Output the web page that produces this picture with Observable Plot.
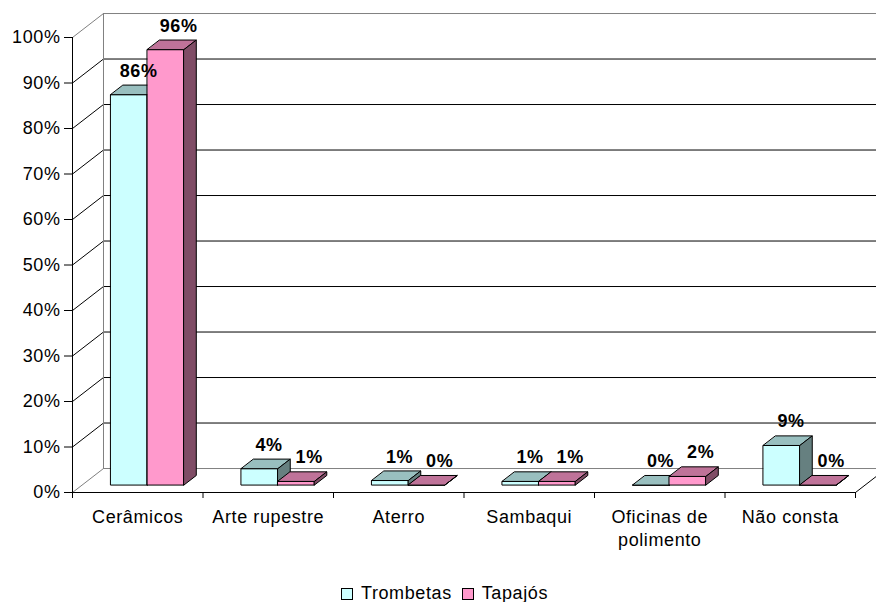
<!DOCTYPE html>
<html><head><meta charset="utf-8">
<script src="https://cdn.jsdelivr.net/npm/d3@7"></script>
<script src="https://cdn.jsdelivr.net/npm/@observablehq/plot@0.6"></script>
<style>
body{margin:0;background:#fff;font-family:"Liberation Sans",Arial,sans-serif;}
#chart{position:relative;width:876px;height:602px;overflow:hidden;}
#legend{position:absolute;left:0;top:583px;width:876px;text-align:center;font-size:18px;line-height:20px;letter-spacing:0.6px;padding-left:13px;box-sizing:border-box;white-space:nowrap;color:#000;}
.sw{display:inline-block;width:10px;height:10px;border:1px solid #000;vertical-align:-1px;margin-right:8px;}
.gap{display:inline-block;width:10px;}
</style></head><body>
<div id="chart"></div>
<script>
// ---- data ----
const categories = ["Cerâmicos", "Arte rupestre", "Aterro", "Sambaqui", "Oficinas de\npolimento", "Não consta"];
const seriesNames = ["Trombetas", "Tapajós"];
const trombetas = [85.8, 3.6, 1.0, 0.8, 0, 8.7];
const tapajos = [95.7, 0.8, 0, 0.8, 1.9, 0];
const yTicks = [0, 10, 20, 30, 40, 50, 60, 70, 80, 90, 100];

// ---- styling / 3D geometry ----
const frontColors = ["#CCFFFF", "#FF99CC"];
const topColors = ["#99BFBF", "#BF7399"];
const sideColors = ["#668080", "#804D66"];
const DXu = 0.2375;   // wall depth in x units
const DYu = 5.27;     // wall depth in y units
const f0 = 0.31, f1 = 0.71; // bar front/back depth fractions
const gap = 0.22, w = 0.28;

const P = (x, y, f) => ({x: x + f * DXu, y: y + f * DYu});
function faces(values, s) {
  const front = [], top = [], side = [];
  values.forEach((v, i) => {
    const x0 = i + gap + s * w, x1 = x0 + w;
    const id = s + "-" + i;
    [P(x0, 0, f0), P(x1, 0, f0), P(x1, v, f0), P(x0, v, f0)].forEach(p => front.push({...p, id}));
    [P(x0, v, f0), P(x1, v, f0), P(x1, v, f1), P(x0, v, f1)].forEach(p => top.push({...p, id}));
    [P(x1, 0, f0), P(x1, 0, f1), P(x1, v, f1), P(x1, v, f0)].forEach(p => side.push({...p, id}));
  });
  return {front, top, side};
}
const allSeries = [trombetas, tapajos];
const barMarks = [];
allSeries.forEach((vals, s) => {
  const F = faces(vals, s);
  const opts = (fill) => ({x: "x", y: "y", z: "id", fill, stroke: "#000", strokeWidth: 1, curve: "linear-closed", strokeLinejoin: "miter"});
  barMarks.push(Plot.line(F.front, opts(frontColors[s])));
  barMarks.push(Plot.line(F.top, opts(topColors[s])));
  barMarks.push(Plot.line(F.side, opts(sideColors[s])));
});
const labelDx = [9.5, 13];
const labelMarks = allSeries.map((vals, s) => Plot.text(vals, {
  x: (d, i) => i + gap + s * w + w / 2 + f0 * DXu,
  y: d => d + f0 * DYu,
  text: d => Math.round(d) + "%",
  dx: labelDx[s], dy: -18, lineAnchor: "bottom", fontWeight: "bold", fontSize: 18, fill: "#000"
}));

const inner = yTicks.filter(t => t > 0 && t < 100);
const edges = [0, 100];
const n = categories.length;

const chart = Plot.plot({
  width: 876, height: 575,
  marginLeft: 72, marginRight: 21, marginTop: 37, marginBottom: 83,
  x: {type: "linear", domain: [0, n], axis: null},
  y: {domain: [0, 100], axis: null},
  style: {fontFamily: "'Liberation Sans', Arial, sans-serif", fontSize: "18px", color: "#000", background: "#fff", letterSpacing: "0.6px"},
  marks: [
    // back wall gridlines
    Plot.ruleY(inner, {y: d => d + DYu, x1: DXu, x2: n + DXu + 0.3, stroke: "#000", strokeWidth: 1}),
    Plot.ruleY(edges, {y: d => d + DYu, x1: DXu, x2: n + DXu + 0.3, stroke: "#808080", strokeWidth: 1}),
    // left wall diagonals
    Plot.link(inner, {x1: 0, y1: d => d, x2: DXu, y2: d => d + DYu, stroke: "#000"}),
    Plot.link(edges, {x1: 0, y1: d => d, x2: DXu, y2: d => d + DYu, stroke: "#808080"}),
    Plot.ruleX([DXu], {y1: DYu, y2: 100 + DYu, stroke: "#808080"}),
    // front axis + floor edges
    Plot.ruleX([0], {y1: 0, y2: 100, stroke: "#000"}),
    Plot.ruleY([0], {x1: 0, x2: n, stroke: "#000"}),
    Plot.link([n], {x1: d => d, y1: 0, x2: d => d + DXu, y2: DYu, stroke: "#000"}),
    ...barMarks,
    ...labelMarks,
    Plot.axisY(yTicks, {tickSize: 8, tickPadding: 4, tickFormat: d => d + "%", stroke: "#000", fill: "#000", label: null}),
    Plot.axisX(d3.range(n + 1), {tickSize: 6, tickFormat: () => "", stroke: "#000", label: null}),
    Plot.text(categories, {x: (d, i) => i + 0.5, y: 0, text: d => d, dy: 15, lineAnchor: "top", lineHeight: 1.25, fontSize: 18, fill: "#000"})
  ]
});
const root = document.getElementById("chart");
root.appendChild(chart);
const legend = document.createElement("div");
legend.id = "legend";
legend.innerHTML = seriesNames.map((s, i) => `<span class="sw" style="background:${frontColors[i]}"></span>${s}`).join('<span class="gap"></span>');
root.appendChild(legend);
</script>
</body></html>
